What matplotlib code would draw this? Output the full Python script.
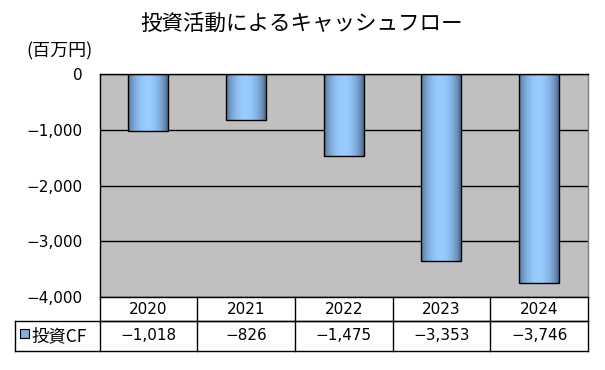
"""
Investing cash flow bar chart with a data table underneath.
"""

import numpy as np
import matplotlib
matplotlib.use("Agg")
import matplotlib.pyplot as plt
import matplotlib.transforms as mtransforms
from matplotlib.patches import Rectangle

years = ["2020", "2021", "2022", "2023", "2024"]
invest_cf = [-1018, -826, -1475, -3353, -3746]
series_name = "投資CF"
title = "投資活動によるキャッシュフロー"
unit_label = "(百万円)"
yticks = [0, -1000, -2000, -3000, -4000]

JP = ["Noto Sans CJK JP", "DejaVu Sans"]
NUM = ["DejaVu Sans"]


def fmt(v):
    s = f"{abs(v):,}"
    return ("\u2212" + s) if v < 0 else s


def gradient_cmap():
    # dark edges, light centre, like the Excel cylinder fill
    edge = np.array([0x50, 0x70, 0x94]) / 255
    mid = np.array([0x99, 0xCC, 0xFF]) / 255
    t = np.linspace(0, 1, 64)
    w = np.sin(np.pi * np.clip(t * 1.05, 0, 1)) ** 0.7
    return edge[None, :] + (mid - edge)[None, :] * w[:, None]


fig = plt.figure(figsize=(6.05, 3.70), dpi=100)
W, H = 605, 370
left, right, top, bottom = 99.5, 588, 74, 297
ax = fig.add_axes([left / W, 1 - bottom / H, (right - left) / W, (bottom - top) / H])
ax.set_facecolor("#C0C0C0")

x = np.arange(len(years))
bars = ax.bar(x, invest_cf, width=0.41, color="none", edgecolor="black", linewidth=1.0, zorder=3)

grad = gradient_cmap()[None, :, :]
for b in bars:
    x0, w = b.get_x(), b.get_width()
    y0, h = b.get_y(), b.get_height()
    im = ax.imshow(grad, extent=[x0, x0 + w, y0 + h, y0], aspect="auto",
                   interpolation="bilinear", zorder=2)
    im.set_clip_path(b)

ax.set_xlim(-0.5, len(years) - 0.5)
ax.set_ylim(-4000, 0)
ax.set_xticks([])
ax.set_yticks(yticks)
ax.set_yticklabels([fmt(v) for v in yticks], family=NUM, fontsize=11)
ax.tick_params(axis="y", length=0, pad=12)
ax.yaxis.grid(True, color="black", linewidth=1.0)
ax.set_axisbelow(True)
for side in ["top", "left", "bottom"]:
    ax.spines[side].set_color("black")
    ax.spines[side].set_linewidth(1.0)
ax.spines["right"].set_color("#808080")
ax.spines["right"].set_linewidth(1.0)

# data table under the plot
trans = mtransforms.blended_transform_factory(ax.transData, ax.transAxes)
ph = bottom - top
row1 = (bottom - 321) / ph
row2 = (bottom - 351) / ph
cell_left = (14.5 - left) / (right - left)
lkw = dict(color="black", linewidth=1.0, clip_on=False)
ax.plot([0, 1], [row1, row1], transform=ax.transAxes, **lkw)
ax.plot([cell_left, 1], [row1, row1], transform=ax.transAxes, **lkw)
ax.plot([cell_left, 1], [row2, row2], transform=ax.transAxes, **lkw)
ax.plot([cell_left, cell_left], [row1, row2], transform=ax.transAxes, **lkw)
ax.plot([0, 0], [0, row2], transform=ax.transAxes, **lkw)
ax.plot([1, 1], [0, row2], transform=ax.transAxes, **lkw)
for i in range(1, len(years)):
    ax.plot([i - 0.5, i - 0.5], [0, row2], transform=trans, **lkw)

for i, (yr, v) in enumerate(zip(years, invest_cf)):
    ax.text(i, row1 / 2, yr, transform=trans, ha="center", va="center",
            family=NUM, fontsize=11)
    ax.text(i, (row1 + row2) / 2, fmt(v), transform=trans, ha="center", va="center",
            family=NUM, fontsize=11)

# legend key in the row header
sq = Rectangle((19.5 / W, 1 - 338 / H), 9 / W, 9 / H, transform=fig.transFigure,
               facecolor="#80AEDD", edgecolor="black", linewidth=0.8)
fig.add_artist(sq)
fig.text(31 / W, 1 - 336 / H, series_name, family=JP, fontsize=12.5, ha="left", va="center")

fig.text(301.5 / W, 1 - 24 / H, title, family=JP, fontsize=15.5, ha="center", va="center")
fig.text(60 / W, 1 - 51 / H, unit_label, family=JP, fontsize=13, ha="center", va="center")

fig.savefig("out.png", dpi=100)
